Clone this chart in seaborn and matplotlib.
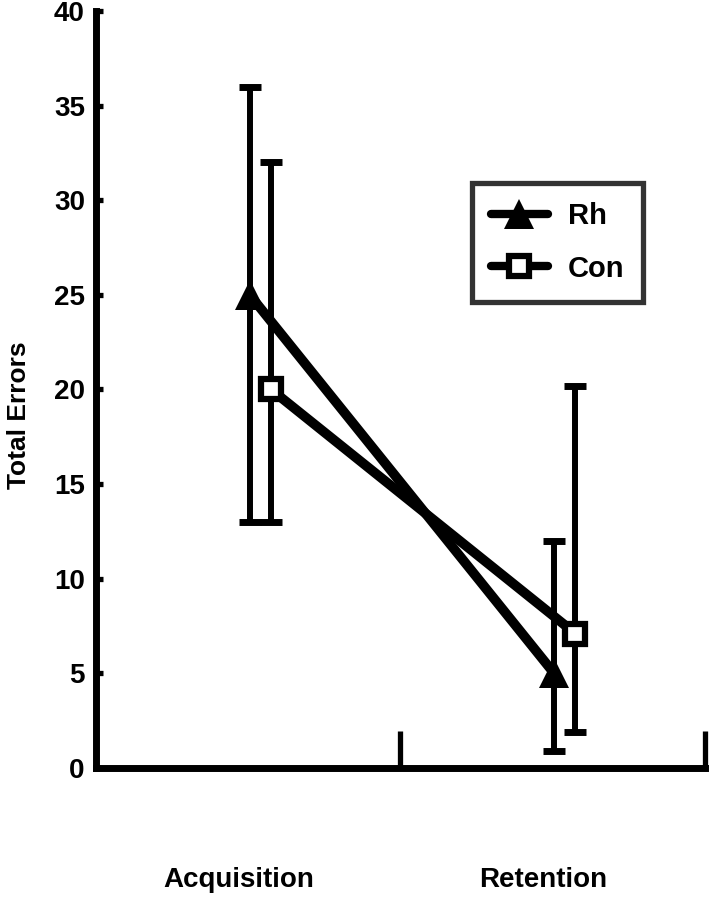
import matplotlib
matplotlib.use("Agg")
import matplotlib.pyplot as plt
from matplotlib.lines import Line2D
import seaborn as sns
import pandas as pd
import numpy as np

categories = ["Acquisition", "Retention"]
groups = ["Rh", "Con"]
rh_mean = [25, 5]
rh_upper = [36, 12]
rh_lower = [13, 0.9]
con_mean = [20, 7.1]
con_upper = [32, 20.2]
con_lower = [13, 1.9]
y_ticks = [0, 5, 10, 15, 20, 25, 30, 35, 40]

sns.set_theme(style="white")
plt.rcParams["font.family"] = ["Liberation Sans", "DejaVu Sans"]
plt.rcParams["font.weight"] = "bold"
plt.rcParams["text.color"] = "black"
plt.rcParams["axes.labelcolor"] = "black"
plt.rcParams["xtick.color"] = "black"
plt.rcParams["ytick.color"] = "black"

base = np.array([0.5, 1.5])
offsets = {"Rh": 0.005, "Con": 0.075}

df = pd.DataFrame({
    "x": np.concatenate([base + offsets["Rh"], base + offsets["Con"]]),
    "y": rh_mean + con_mean,
    "group": ["Rh"] * 2 + ["Con"] * 2,
})

fig = plt.figure(figsize=(7.12, 8.99), dpi=100)
ax = fig.add_axes([0.1348, 0.1457, 0.8552, 0.8421])

sns.lineplot(data=df, x="x", y="y", hue="group", palette=["black", "black"],
             linewidth=7, legend=False, ax=ax, zorder=2)

series = {
    "Rh": (rh_mean, rh_lower, rh_upper, "^", "black", 22),
    "Con": (con_mean, con_lower, con_upper, "s", "white", 15),
}
for g in groups:
    m, lo, up, mk, fc, ms = series[g]
    xs = base + offsets[g]
    m = np.array(m); lo = np.array(lo); up = np.array(up)
    ax.errorbar(xs, m, yerr=[m - lo, up - m], fmt="none", ecolor="black",
                elinewidth=4.3, capsize=8, capthick=5, zorder=3)
    ax.plot(xs, m, linestyle="none", marker=mk, markersize=ms,
            markerfacecolor=fc, markeredgecolor="black",
            markeredgewidth=4.5 if g == "Con" else 0, zorder=4)

ax.set_xlim(0, 2)
ax.set_ylim(0, 40)
ax.set_yticks(y_ticks)
ax.set_yticklabels([str(v) for v in y_ticks], fontsize=20, fontweight="bold",
                   color="black")
ax.set_xticks([1, 2])
ax.set_xticklabels(["", ""])
ax.set_xticks(base - 0.03, minor=True)
ax.set_xticklabels(categories, minor=True, fontsize=20, fontweight="bold",
                   color="black")
ax.tick_params(axis="x", which="major", direction="in", length=27, width=3.8,
               color="black", bottom=True)
ax.tick_params(axis="x", which="minor", length=0, pad=71, bottom=True)
ax.tick_params(axis="y", direction="in", length=5, width=3.8, color="black",
               pad=8, left=True)
ax.set_xlabel("")
ax.set_ylabel("Total Errors", fontsize=19, fontweight="bold", color="black")
ax.yaxis.set_label_coords(-0.106, 0.466)

for s in ["top", "right"]:
    ax.spines[s].set_visible(False)
for s in ["left", "bottom"]:
    ax.spines[s].set_linewidth(5)
    ax.spines[s].set_color("black")
    ax.spines[s].set_capstyle("projecting")

handles = [
    Line2D([], [], color="black", linewidth=6, marker="^", markersize=22,
           markerfacecolor="black", markeredgewidth=0),
    Line2D([], [], color="black", linewidth=6, marker="s", markersize=15,
           markerfacecolor="white", markeredgecolor="black", markeredgewidth=4.5),
]
leg = ax.legend(handles, groups, loc="upper left", bbox_to_anchor=(0.617, 0.773),
                prop={"size": 21, "weight": "bold"}, frameon=True, fancybox=False,
                edgecolor="black", handlelength=1.95, handletextpad=0.7,
                labelspacing=0.85, borderpad=0.65, borderaxespad=0)
leg.get_frame().set_linewidth(3.8)
leg.get_frame().set_facecolor("white")
for t in leg.get_texts():
    t.set_color("black")

fig.savefig("out.png", dpi=100, facecolor="white")
